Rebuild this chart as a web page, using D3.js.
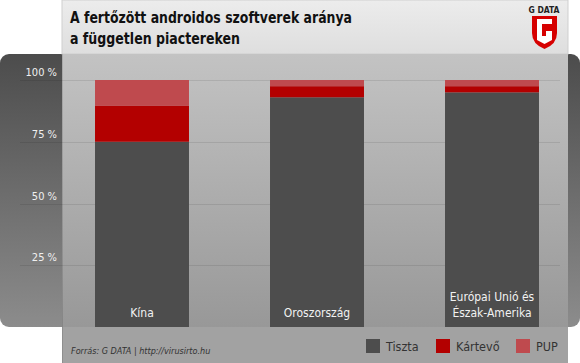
<!DOCTYPE html>
<html>
<head>
<meta charset="utf-8">
<script src="https://cdn.jsdelivr.net/npm/d3@7"></script>
<style>
  html, body { margin: 0; padding: 0; background: #fff; }
  svg { display: block; font-family: "Liberation Sans Narrow", "DejaVu Sans Condensed", "Open Sans", sans-serif; }
</style>
</head>
<body>
<script>
const width = 580;
const height = 363;

// adatok
const categories = ["Kína", "Oroszország", "Európai Unió és\nÉszak-Amerika"];
const tiszta = [75, 93, 95];
const kartevo = [14.5, 4.5, 2.5];
const pup = [10.5, 2.5, 2.5];
const seriesNames = ["Tiszta", "Kártevő", "PUP"];
const seriesColors = ["#4d4d4d", "#b30000", "#bf4a4e"];
const yTicks = [25, 50, 75, 100];
const titleLines = ["A fertőzött androidos szoftverek aránya", "a független piactereken"];
const titleWidths = [282, 170];
const source = "Forrás: G DATA | http://virusirto.hu";

const svg = d3.select("body").append("svg")
  .attr("width", width)
  .attr("height", height);

const defs = svg.append("defs");
const g1 = defs.append("linearGradient").attr("id", "dark").attr("x1", 0).attr("x2", 0).attr("y1", 0).attr("y2", 1);
g1.append("stop").attr("offset", "0%").attr("stop-color", "#4c4c4c");
g1.append("stop").attr("offset", "100%").attr("stop-color", "#8c8c8c");
const g2 = defs.append("linearGradient").attr("id", "light").attr("x1", 0).attr("x2", 0).attr("y1", 0).attr("y2", 1);
g2.append("stop").attr("offset", "0%").attr("stop-color", "#c3c3c3");
g2.append("stop").attr("offset", "100%").attr("stop-color", "#989898");
const g3 = defs.append("linearGradient").attr("id", "title").attr("x1", 0).attr("x2", 0).attr("y1", 0).attr("y2", 1);
g3.append("stop").attr("offset", "0%").attr("stop-color", "#ececec");
g3.append("stop").attr("offset", "100%").attr("stop-color", "#dedede");

// háttér panelek
svg.append("rect").attr("x", 0).attr("y", 54).attr("width", 580).attr("height", 273)
  .attr("rx", 9).attr("fill", "url(#dark)");
svg.append("rect").attr("x", 62).attr("y", 0).attr("width", 506).attr("height", 54)
  .attr("fill", "url(#title)").attr("stroke", "#cfcfcf").attr("stroke-width", 1);
svg.append("rect").attr("x", 62).attr("y", 54).attr("width", 506).attr("height", 273)
  .attr("fill", "url(#light)");
svg.append("rect").attr("x", 62).attr("y", 327).attr("width", 506).attr("height", 36)
  .attr("fill", "#a2a2a2");
svg.append("line").attr("x1", 62.5).attr("x2", 62.5).attr("y1", 54).attr("y2", 363)
  .attr("stroke", "rgba(0,0,0,0.12)");

// skálák
const y = d3.scaleLinear().domain([0, 100]).range([327, 80]);
const x = d3.scaleBand().domain(categories).range([54.5, 579.5])
  .paddingInner(0.463).paddingOuter(0.2315);

// rácsvonalak
svg.append("g").selectAll("line")
  .data(yTicks)
  .join("line")
  .attr("x1", 20).attr("x2", 560)
  .attr("y1", d => Math.round(y(d)) + 0.5).attr("y2", d => Math.round(y(d)) + 0.5)
  .attr("stroke", "rgba(0,0,0,0.09)");

svg.append("g").selectAll("text")
  .data(yTicks)
  .join("text")
  .attr("x", 57)
  .attr("y", d => y(d) - 4)
  .attr("text-anchor", "end")
  .attr("font-size", 11)
  .attr("fill", "#f0f0f0")
  .text(d => d + " %");

// halmozott oszlopok
const rows = categories.map((c, i) => ({ cat: c, Tiszta: tiszta[i], "Kártevő": kartevo[i], PUP: pup[i] }));
const stack = d3.stack().keys(seriesNames)(rows);

svg.append("g").selectAll("g")
  .data(stack)
  .join("g")
  .attr("fill", (d, i) => seriesColors[i])
  .selectAll("rect")
  .data(d => d)
  .join("rect")
  .attr("x", d => x(d.data.cat))
  .attr("width", x.bandwidth())
  .attr("y", d => y(d[1]))
  .attr("height", d => y(d[0]) - y(d[1]));

// kategória címkék
const lab = svg.append("g").selectAll("text")
  .data(categories)
  .join("text")
  .attr("text-anchor", "middle")
  .attr("font-size", 12)
  .attr("fill", "#f2f2f2")
  .attr("x", d => x(d) + x.bandwidth() / 2)
  .attr("y", 317);
lab.each(function (d) {
  const lines = d.split("\n");
  d3.select(this).selectAll("tspan")
    .data(lines)
    .join("tspan")
    .attr("x", x(d) + x.bandwidth() / 2)
    .attr("dy", (l, i) => i === 0 ? -(lines.length - 1) * 16.5 : 16.5)
    .text(l => l);
});

// cím
svg.append("g").selectAll("text")
  .data(titleLines)
  .join("text")
  .attr("x", 70)
  .attr("y", (d, i) => 23 + i * 21)
  .attr("font-size", 16.5)
  .attr("font-weight", "bold")
  .attr("fill", "#111")
  .attr("textLength", (d, i) => titleWidths[i])
  .attr("lengthAdjust", "spacingAndGlyphs")
  .text(d => d);

// logó
const logo = svg.append("g");
logo.append("text").attr("x", 544).attr("y", 13).attr("text-anchor", "middle")
  .attr("font-size", 8.5).attr("font-weight", "bold").attr("fill", "#222").text("G DATA");
logo.append("path")
  .attr("d", "M532,16 L557,16 L557,33 Q557,44 544.5,49 Q532,44 532,33 Z")
  .attr("fill", "#d60000");
logo.append("path")
  .attr("d", "M537,19 L552,19 L552,24 L542,24 L542,36 L546,36 L546,31 L552,31 L552,40 L544.5,44 L537,40 Z")
  .attr("fill", "#fff");

// forrás
svg.append("text").attr("x", 71).attr("y", 354)
  .attr("font-size", 9).attr("font-style", "italic").attr("fill", "#333")
  .text(source);

// jelmagyarázat
const legendX = [366, 436, 516];
const leg = svg.append("g").selectAll("g")
  .data(seriesNames)
  .join("g")
  .attr("transform", (d, i) => `translate(${legendX[i]},339)`);
leg.append("rect").attr("width", 14).attr("height", 14)
  .attr("fill", (d, i) => seriesColors[i]);
leg.append("text").attr("x", 20).attr("y", 12)
  .attr("font-size", 12.5).attr("fill", "#333")
  .text(d => d);
</script>
</body>
</html>
